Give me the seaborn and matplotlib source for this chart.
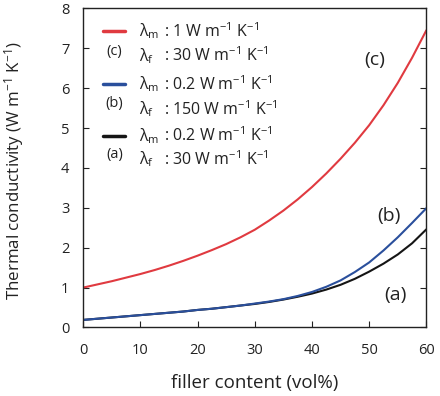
import matplotlib
matplotlib.use("Agg")
import matplotlib.pyplot as plt
import seaborn as sns
import pandas as pd
from matplotlib.lines import Line2D

# Data
filler = [0, 2.5, 5, 7.5, 10, 12.5, 15, 17.5, 20, 22.5, 25, 27.5, 30,
          32.5, 35, 37.5, 40, 42.5, 45, 47.5, 50, 52.5, 55, 57.5, 60]
curve_c = [1.0, 1.08, 1.16, 1.25, 1.34, 1.44, 1.55, 1.67, 1.8, 1.94, 2.09, 2.26, 2.45,
           2.68, 2.93, 3.21, 3.52, 3.86, 4.23, 4.63, 5.07, 5.57, 6.13, 6.76, 7.45]
curve_b = [0.19, 0.22, 0.25, 0.28, 0.31, 0.34, 0.37, 0.40, 0.44, 0.47, 0.51, 0.55, 0.6,
           0.65, 0.71, 0.79, 0.89, 1.02, 1.18, 1.39, 1.63, 1.93, 2.26, 2.62, 2.99]
curve_a = [0.19, 0.22, 0.25, 0.28, 0.31, 0.34, 0.37, 0.40, 0.44, 0.47, 0.51, 0.55, 0.59,
           0.64, 0.7, 0.77, 0.85, 0.95, 1.07, 1.22, 1.4, 1.6, 1.83, 2.11, 2.46]
series_names = ["(a)", "(b)", "(c)"]
colors = {"(a)": "#151515", "(b)": "#2a4f9c", "(c)": "#e03a40"}

df = pd.concat([
    pd.DataFrame({"filler": filler, "k": curve_a, "s": "(a)"}),
    pd.DataFrame({"filler": filler, "k": curve_b, "s": "(b)"}),
    pd.DataFrame({"filler": filler, "k": curve_c, "s": "(c)"}),
])

sns.set_style("ticks")
plt.rcParams["font.family"] = ["Open Sans", "DejaVu Sans"]
plt.rcParams["mathtext.fontset"] = "custom"
plt.rcParams["mathtext.rm"] = "Open Sans"
plt.rcParams["mathtext.it"] = "Open Sans:italic"

fig = plt.figure(figsize=(4.4, 3.96), dpi=100)
ax = fig.add_axes([0.189, 0.173, 0.780, 0.806])

sns.lineplot(data=df, x="filler", y="k", hue="s", palette=colors,
             hue_order=series_names, linewidth=1.5, legend=False, ax=ax)

ax.set_xlim(0, 60)
ax.set_ylim(0, 8)
ax.set_xticks(range(0, 61, 10))
ax.set_yticks(range(0, 9))
ax.tick_params(direction="in", length=4, width=0.8, labelsize=10.5, colors="#222222",
               right=True, top=False)
ax.tick_params(axis="x", pad=11)
ax.tick_params(axis="y", pad=10)
for sp in ax.spines.values():
    sp.set_linewidth(1.0)
    sp.set_color("#222222")
ax.set_xlabel("filler content (vol%)", fontsize=13.5, labelpad=12, color="#222")
ax.set_ylabel("Thermal conductivity (W m$^{-1}$ K$^{-1}$)", fontsize=12.2, color="#222")
ax.yaxis.set_label_coords(-0.168, 0.49)

# curve labels
ax.text(51, 6.7, "(c)", fontsize=14, ha="center", va="center", color="#222")
ax.text(53.4, 2.8, "(b)", fontsize=14, ha="center", va="center", color="#222")
ax.text(54.6, 0.82, "(a)", fontsize=14, ha="center", va="center", color="#222")

# legend block
T = ax.transAxes
entries = [
    ("(c)", "1", "30", 0.928, 0.851, 0.866),
    ("(b)", "0.2", "150", 0.762, 0.684, 0.702),
    ("(a)", "0.2", "30", 0.601, 0.527, 0.543),
]
fs = 11.5
for name, lm, lf, y1, y2, yl in entries:
    ax.add_line(Line2D([0.058, 0.122], [y1, y1], transform=T, color=colors[name], lw=2.5))
    ax.text(0.092, yl, name, transform=T, fontsize=10.5, ha="center", va="center", color="#222")
    ax.text(0.164, y1, r"λ$_{\rm m}$", transform=T, fontsize=fs, va="center", color="#222")
    ax.text(0.236, y1, ": " + lm + r" W m$^{-1}$ K$^{-1}$", transform=T, fontsize=fs,
            va="center", color="#222")
    ax.text(0.164, y2, r"λ$_{\rm f}$", transform=T, fontsize=fs, va="center", color="#222")
    ax.text(0.236, y2, ": " + lf + r" W m$^{-1}$ K$^{-1}$", transform=T, fontsize=fs,
            va="center", color="#222")

fig.savefig("out.png", dpi=100)
